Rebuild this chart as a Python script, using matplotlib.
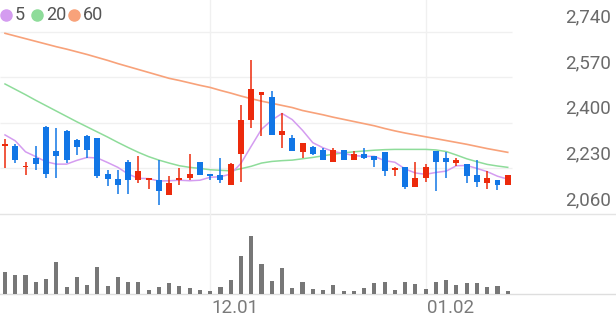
import numpy as np
import matplotlib
matplotlib.use("Agg")
from matplotlib import pyplot as plt

# daily candles, 50 sessions
opens = [2315, 2315, 2235, 2270, 2385, 2295, 2370, 2335, 2350, 2345,
         2210, 2190, 2255, 2185, 2185, 2185, 2130, 2185, 2195, 2255,
         2210, 2205, 2170, 2285, 2410, 2505, 2495, 2355, 2345, 2290,
         2310, 2300, 2255, 2300, 2260, 2285, 2275, 2290, 2225, 2235,
         2160, 2195, 2295, 2270, 2250, 2245, 2205, 2175, 2185, 2170]
highs = [2340, 2320, 2255, 2315, 2390, 2380, 2375, 2340, 2355, 2345,
         2225, 2225, 2260, 2275, 2195, 2260, 2200, 2230, 2285, 2255,
         2210, 2270, 2250, 2465, 2635, 2515, 2520, 2435, 2355, 2325,
         2315, 2305, 2305, 2300, 2295, 2305, 2275, 2290, 2235, 2235,
         2255, 2245, 2295, 2290, 2270, 2245, 2260, 2220, 2185, 2205]
lows = [2230, 2250, 2205, 2225, 2195, 2195, 2250, 2280, 2270, 2195,
        2165, 2135, 2135, 2175, 2155, 2095, 2130, 2170, 2185, 2205,
        2185, 2175, 2170, 2180, 2380, 2350, 2355, 2305, 2295, 2270,
        2280, 2260, 2255, 2260, 2260, 2265, 2235, 2200, 2200, 2155,
        2160, 2180, 2145, 2195, 2240, 2175, 2160, 2155, 2150, 2170]
closes = [2320, 2260, 2240, 2245, 2210, 2275, 2260, 2310, 2300, 2200,
          2190, 2170, 2185, 2220, 2195, 2145, 2175, 2195, 2210, 2205,
          2200, 2185, 2245, 2410, 2525, 2515, 2355, 2370, 2295, 2325,
          2285, 2260, 2300, 2260, 2285, 2270, 2260, 2220, 2230, 2160,
          2195, 2235, 2255, 2255, 2260, 2200, 2180, 2195, 2170, 2205]
# closes of the 4 sessions before the window (for the 5-day average)
prior_closes = [2370, 2445, 2335, 2305]
volumes = [217000, 190000, 190000, 120000, 147000, 323000, 67000, 173000, 93000, 273000,
           77000, 173000, 117000, 117000, 43000, 67000, 107000, 77000, 63000, 40000,
           33000, 70000, 137000, 380000, 583000, 300000, 135000, 257000, 60000, 120000,
           50000, 43000, 90000, 27000, 27000, 60000, 110000, 117000, 43000, 120000,
           103000, 47000, 117000, 143000, 90000, 107000, 110000, 73000, 77000, 27000]
# 20 and 60 day averages (need longer history)
ma20 = [2545, 2525, 2505, 2484, 2464, 2444, 2424, 2404, 2385, 2366,
        2347, 2327, 2308, 2290, 2274, 2261, 2250, 2240, 2234, 2230,
        2225, 2223, 2221, 2229, 2238, 2250, 2256, 2259, 2261, 2266,
        2271, 2277, 2283, 2288, 2292, 2295, 2298, 2300, 2301, 2301,
        2301, 2301, 2299, 2293, 2280, 2266, 2255, 2245, 2239, 2234]
ma60 = [2734, 2724, 2714, 2704, 2694, 2684, 2675, 2665, 2655, 2644,
        2633, 2621, 2610, 2599, 2588, 2577, 2566, 2558, 2549, 2540,
        2532, 2521, 2511, 2500, 2490, 2481, 2473, 2465, 2457, 2446,
        2438, 2430, 2421, 2413, 2405, 2397, 2389, 2379, 2370, 2362,
        2355, 2348, 2341, 2334, 2327, 2320, 2312, 2304, 2297, 2290]
price_ticks = [2060, 2230, 2400, 2570, 2740]
date_idx = [20, 41]
date_labels = ["12.01", "01.02"]
ma_names = ["5", "20", "60"]

RED = "#ec2a0c"
BLUE = "#1176e6"
MA_COLORS = ["#d49cf0", "#8edc9a", "#f8a27a"]
GRID = "#f0f0f0"

W, H = 616, 321
fig = plt.figure(figsize=(W / 100, H / 100), dpi=100)
plt.rcParams['font.family'] = ['Roboto', 'DejaVu Sans']

ax = fig.add_axes([0, (H - 214) / H, 1, 214 / H])
axv = fig.add_axes([0, (H - 294) / H, 1, 80 / H])
xlim = (-0.487, -0.487 + W / 10.26)
for a in (ax, axv):
    a.set_xlim(*xlim)
    a.set_axis_off()
ax.set_ylim(2060, 2060 + 214 / 0.2681)
axv.set_ylim(0, 800000)

xs = np.arange(len(closes))
o = np.array(opens)
c = np.array(closes)

# grid
grid_end = 49.4
ax.hlines(price_ticks[1:], xlim[0], grid_end, color=GRID, lw=1, zorder=0)
ax.axhline(price_ticks[0], color="#e4e4e4", lw=1, clip_on=False, zorder=0)
for d in date_idx:
    ax.axvline(d, color=GRID, lw=1, zorder=0)
    axv.axvline(d, color=GRID, lw=1, zorder=0)
axv.axhline(0, color="#dedede", lw=1, clip_on=False, zorder=0)

# moving averages
ext = np.array(prior_closes + closes, dtype=float)
ma5 = np.convolve(ext, np.ones(5) / 5, mode="valid")
ax.plot(xs, ma60, color=MA_COLORS[2], lw=1.2, zorder=1)
ax.plot(xs, ma20, color=MA_COLORS[1], lw=1.1, zorder=1)
ax.plot(xs, ma5, color=MA_COLORS[0], lw=1.1, zorder=1)

# candles
cols = [RED if cc >= oo else BLUE for oo, cc in zip(opens, closes)]
ax.vlines(xs, lows, highs, colors=cols, lw=1.1, zorder=2)
ax.bar(xs, np.abs(c - o), bottom=np.minimum(o, c), width=0.58, color=cols, zorder=3)

# volume
axv.bar(xs, volumes, width=0.4, color="#777777", zorder=2)

# price labels on the right, sitting above their gridline
for p in price_ticks:
    ax.annotate(f"{p:,}", xy=(1, p), xycoords=("axes fraction", "data"),
                xytext=(-5, 9), textcoords="offset pixels",
                ha="right", va="baseline", fontsize=13.5, color="#6a6a6a")

for d, lab in zip(date_idx, date_labels):
    axv.annotate(lab, xy=(d, 0), xycoords="data", xytext=(1, -14),
                 textcoords="offset pixels", ha="left", va="center",
                 fontsize=13.5, color="#7a7a7a")

# legend
dot_x = [6, 37, 74]
txt_x = [15, 46, 83]
for dx, tx, name, col in zip(dot_x, txt_x, ma_names, MA_COLORS):
    fig.lines.append(plt.Line2D([dx / W], [1 - 15 / H], marker="o", ms=8,
                                color=col, transform=fig.transFigure))
    fig.text(tx / W, 1 - 15 / H, name, ha="left", va="center",
             fontsize=13, color="#555555")

fig.savefig("out.png", dpi=100, facecolor="white")
